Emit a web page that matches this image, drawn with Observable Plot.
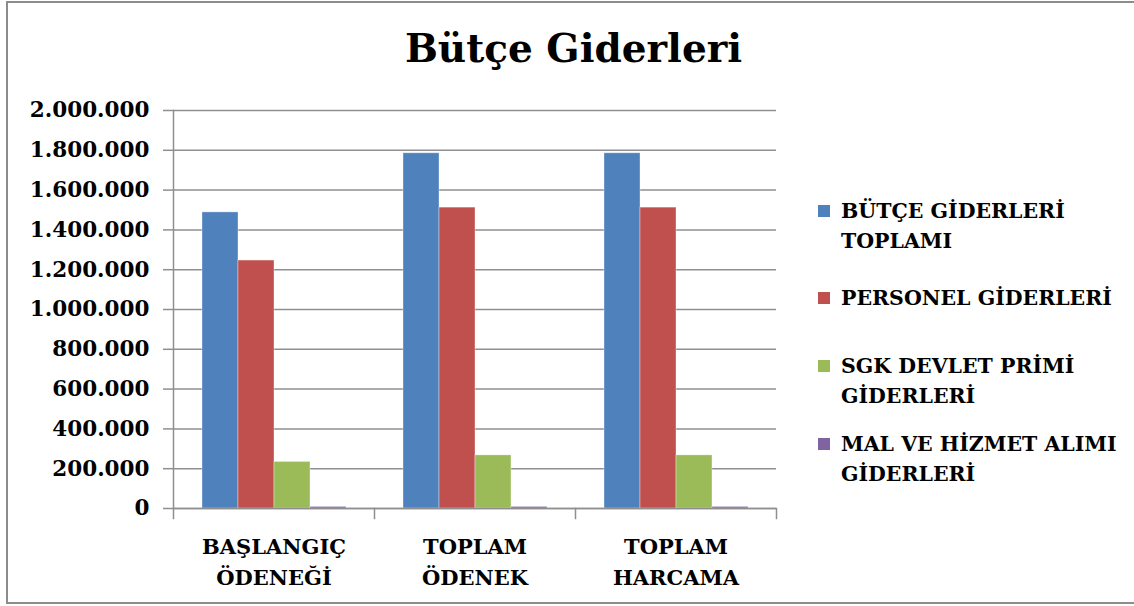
<!DOCTYPE html>
<html>
<head>
<meta charset="utf-8">
<script src="https://cdn.jsdelivr.net/npm/d3@7"></script>
<script src="https://cdn.jsdelivr.net/npm/@observablehq/plot@0.6"></script>
<style>
  body { margin: 0; background: #fff; }
  #wrap { position: relative; width: 1134px; height: 606px; overflow: hidden; background: #fff;
          font-family: "DejaVu Serif", "Liberation Serif", serif; font-weight: bold; color: #000; }
  #border { position: absolute; left: 6px; top: 1px; width: 1150px; height: 603px;
            border: 2px solid #8c8c8c; box-sizing: border-box; }
  #title { position: absolute; left: 0; width: 1147px; top: 24px; text-align: center;
           font-size: 39px; line-height: 48px; }
  #chart { position: absolute; left: 0; top: 90px; }
  #legend { position: absolute; left: 818px; top: 187px; font-size: 20.5px; }
  .entry { height: 77.7px; display: flex; align-items: flex-start; box-sizing: border-box; }
  .sw { width: 12px; height: 12px; margin-right: 11px; margin-top: 9px; flex: none; }
  .lab { line-height: 30px; white-space: pre; }
</style>
</head>
<body>
<div id="wrap">
  <div id="border"></div>
  <div id="title"></div>
  <div id="chart"></div>
  <div id="legend"></div>
</div>
<script>
// ---- data ----
const titleText = "Bütçe Giderleri";
const categories = ["BAŞLANGIÇ\nÖDENEĞİ", "TOPLAM\nÖDENEK", "TOPLAM\nHARCAMA"];
const seriesNames = ["BÜTÇE GİDERLERİ TOPLAMI", "PERSONEL GİDERLERİ", "SGK DEVLET PRİMİ GİDERLERİ", "MAL VE HİZMET ALIMI GİDERLERİ"];
const legendLabels = ["BÜTÇE GİDERLERİ\nTOPLAMI", "PERSONEL GİDERLERİ", "SGK DEVLET PRİMİ\nGİDERLERİ", "MAL VE HİZMET ALIMI\nGİDERLERİ"];
const butceToplami = [1488000, 1785000, 1785000];
const personelGiderleri = [1246000, 1512000, 1512000];
const sgkDevletPrimi = [234000, 267000, 267000];
const malHizmetAlimi = [8000, 8000, 8000];
const seriesColors = ["#4F81BD", "#C0504D", "#9BBB59", "#8064A2"];
const yTicks = [0, 200000, 400000, 600000, 800000, 1000000, 1200000, 1400000, 1600000, 1800000, 2000000];

const seriesValues = [butceToplami, personelGiderleri, sgkDevletPrimi, malHizmetAlimi];
const table = categories.flatMap((c, i) =>
  seriesNames.map((s, j) => ({category: c, series: s, value: seriesValues[j][i]})));

const fmt = d => d3.format(",")(d).replace(/,/g, ".");
const gray = "#8f8f8f";
const plotH = 398;

document.getElementById("title").textContent = titleText;

const chart = Plot.plot({
  width: 800,
  height: 516,
  marginLeft: 172,
  marginRight: 24,
  marginTop: 20,
  marginBottom: 98,
  style: {fontFamily: "'DejaVu Serif', 'Liberation Serif', serif", fontSize: "21px", fontWeight: "bold",
          color: "#000", background: "transparent", overflow: "visible"},
  fx: {domain: categories, padding: 0, label: null, axis: null},
  x: {domain: seriesNames, paddingInner: 0, paddingOuter: 0.79, axis: null},
  y: {domain: [0, 2000000], axis: null},
  color: {domain: seriesNames, range: seriesColors},
  marks: [
    Plot.ruleY(yTicks, {stroke: gray, strokeWidth: 1.5}),
    Plot.barY(table, {fx: "category", x: "series", y: "value", fill: "series",
                      stroke: "#fff", strokeOpacity: 0.45, strokeWidth: 0.8}),
    Plot.ruleY([0], {stroke: gray, strokeWidth: 1.5}),
    Plot.axisY({ticks: yTicks, tickSize: 10, tickPadding: 14, tickFormat: fmt, label: null,
                stroke: gray, strokeWidth: 1.5, fill: "#000", fontSize: 21.5}),
    Plot.axisFx({anchor: "bottom", tickSize: 0, tickPadding: 23, lineHeight: 1.5, label: null,
                 fill: "#000", fontSize: 21}),
    Plot.frame({anchor: "left", stroke: gray, strokeWidth: 1.5, fx: () => categories[0]}),
    Plot.frame({anchor: "left", stroke: gray, strokeWidth: 1.5, insetTop: plotH, insetBottom: -10}),
    Plot.frame({anchor: "right", stroke: gray, strokeWidth: 1.5, insetTop: plotH, insetBottom: -10,
                fx: () => categories[categories.length - 1]})
  ]
});
document.getElementById("chart").appendChild(chart);

const legend = document.getElementById("legend");
legendLabels.forEach((lab, i) => {
  const e = document.createElement("div");
  e.className = "entry";
  e.style.paddingTop = lab.includes("\n") ? "9px" : "18px";
  const sw = document.createElement("div");
  sw.className = "sw";
  sw.style.background = seriesColors[i];
  const t = document.createElement("div");
  t.className = "lab";
  t.textContent = lab;
  e.appendChild(sw); e.appendChild(t);
  legend.appendChild(e);
});
</script>
</body>
</html>
